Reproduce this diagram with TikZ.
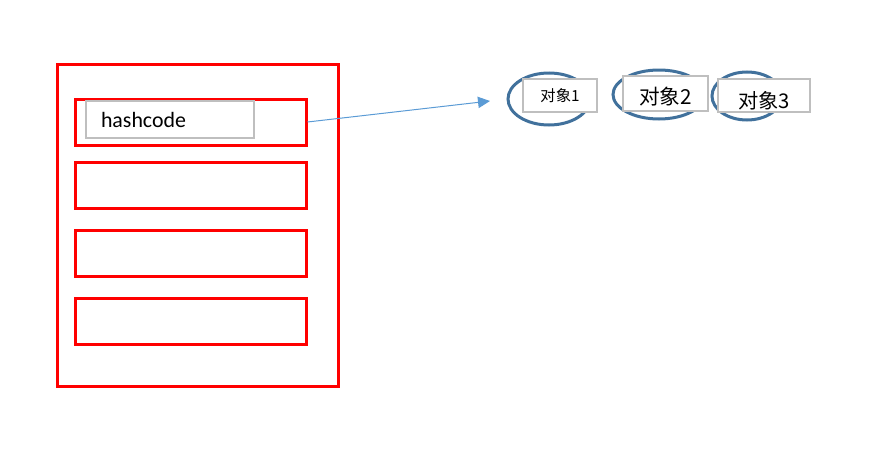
\documentclass[tikz,border=0pt]{standalone}
\usepackage{fontspec}
\setmainfont{Carlito}
\newfontfamily\cjkfont{Noto Sans CJK SC}
\usetikzlibrary{arrows.meta, positioning, shapes.geometric}

\definecolor{bucketred}{RGB}{255,0,0}
\definecolor{boxgray}{RGB}{191,191,191}
\definecolor{linkblue}{RGB}{91,155,213}
\definecolor{ringblue}{RGB}{65,113,156}

\begin{document}
\begin{tikzpicture}[
            x=0.75pt, y=-0.75pt,
            >=Latex,
            % Estilo da tabela e dos baldes
            table/.style={
                draw=bucketred,
                rectangle,
                line width=2.25pt,
                minimum width=210.75pt,
                minimum height=241.5pt,
                inner sep=0pt
            },
            bucket/.style={
                draw=bucketred,
                rectangle,
                line width=2.25pt,
                minimum width=173.25pt,
                minimum height=34.5pt,
                inner sep=0pt
            },
            % Estilo das caixas de texto
            textbox/.style={
                draw=boxgray,
                fill=white,
                rectangle,
                line width=1.5pt,
                inner sep=0pt
            },
            % Estilo dos objetos
            ring/.style={
                draw=ringblue,
                ellipse,
                line width=2.25pt,
                inner sep=0pt
            },
            link/.style={
                draw=linkblue,
                -{Triangle[length=9pt,width=8.5pt]},
                line width=0.75pt
            }
        ]

            \useasboundingbox (0,0) rectangle (886,471);

            % Tabela com os baldes
            \node [table] (table) at (197.5,225) {};
            \node [bucket] (bucket1) at (190.5,122) {};
            \node [bucket] (bucket2) at (190.5,185) {};
            \node [bucket] (bucket3) at (190.5,253) {};
            \node [bucket] (bucket4) at (190.5,321) {};

            % Caixa hashcode
            \node [textbox, anchor=west, inner xsep=11.25pt, text width=103.5pt,
                   minimum height=27.75pt, align=left, font=\fontsize{16.4}{18}\selectfont]
                (hash) at (85,119.5) {hashcode};

            % Objetos da lista
            \node [ring, minimum width=61.5pt, minimum height=39pt] (ring1) at (549,99) {};
            \node [ring, minimum width=69pt, minimum height=36.75pt] (ring2) at (659,94.5) {};
            \node [ring, minimum width=52.5pt, minimum height=36pt] (ring3) at (747,96) {};

            \node [textbox, minimum width=55.5pt, minimum height=24.75pt,
                   font=\cjkfont\fontsize{11.5}{13}\selectfont] (obj1) at (560,95.5) {对象1};
            \node [textbox, minimum width=63.75pt, minimum height=26.25pt,
                   font=\cjkfont\fontsize{15.5}{17}\selectfont] (obj2) at (665.5,93.5)
                {\raisebox{-2.25pt}[\height][\depth]{对象2}};
            \node [textbox, minimum width=69pt, minimum height=24.75pt,
                   font=\cjkfont\fontsize{15.2}{17}\selectfont] (obj3) at (764,95.5)
                {\raisebox{-3.75pt}[\height][\depth]{对象3}};

            % Seta do balde para a lista
            \coordinate (head) at (490,101);
            \draw [link] (bucket1.east) -- (head);

        \end{tikzpicture}
\end{document}
